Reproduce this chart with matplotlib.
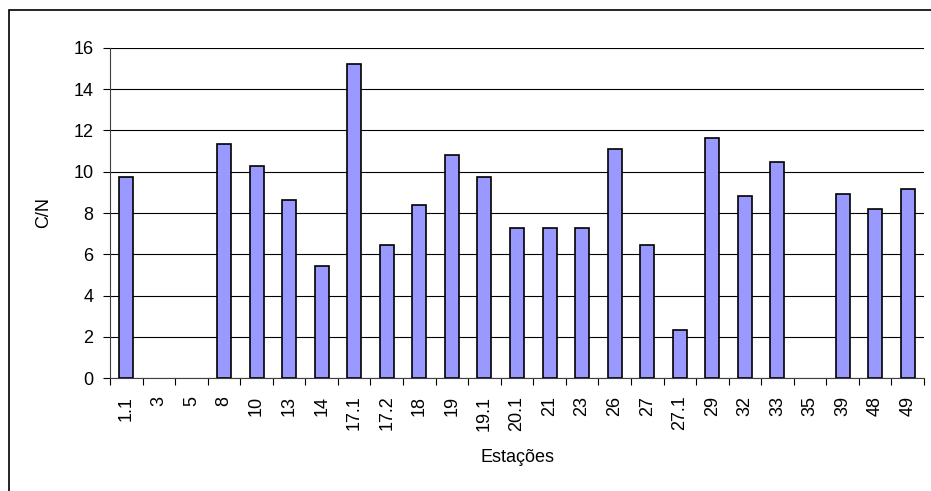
import matplotlib
matplotlib.use("Agg")
import matplotlib.pyplot as plt
from matplotlib.patches import Rectangle

plt.rcParams["font.family"] = ["Liberation Sans", "DejaVu Sans"]

NAN = float("nan")

# C/N por estação (nan = sem barra)
stations = ["1.1", "3", "5", "8", "10", "13", "14", "17.1", "17.2", "18", "19",
            "19.1", "20.1", "21", "23", "26", "27", "27.1", "29", "32", "33",
            "35", "39", "48", "49"]
cn_ratio = [9.73, NAN, NAN, 11.35, 10.27, 8.63, 5.45, 15.19, 6.44, 8.37, 10.81,
            9.73, 7.27, 7.27, 7.27, 11.11, 6.45, 2.35, 11.65, 8.82, 10.47,
            NAN, 8.92, 8.18, 9.18]
y_ticks = [0, 2, 4, 6, 8, 10, 12, 14, 16]

fig = plt.figure(figsize=(9.31, 4.91), dpi=100)
ax = fig.add_axes([110 / 931, 1 - 378.3 / 491, 814 / 931, 330.6 / 491])

pos = list(range(len(stations)))
ax.bar(pos, cn_ratio, width=0.43, color="#9999ff", edgecolor="black",
       linewidth=1.2, zorder=3)

ax.set_xlim(-0.5, len(stations) - 0.5)
ax.set_ylim(0, 16)
ax.set_yticks(y_ticks)
ax.yaxis.grid(True, color="black", linewidth=0.8, zorder=0)

# rótulos nas categorias, marcas entre elas
ax.set_xticks(pos)
ax.set_xticklabels(stations, rotation=90, fontsize=13)
ax.set_xticks([p - 0.5 for p in pos] + [len(stations) - 0.5], minor=True)
ax.tick_params(axis="x", which="major", length=0, pad=12.5)
ax.tick_params(axis="x", which="minor", length=5, direction="out", width=0.8)
ax.tick_params(axis="y", length=5, direction="out", width=0.8, labelsize=13, pad=7)

for side in ("top", "right"):
    ax.spines[side].set_visible(False)
ax.spines["left"].set_color("#404040")
ax.spines["bottom"].set_color("#404040")

ax.set_ylabel("C/N", fontsize=13, labelpad=15)
ax.set_xlabel("Estações", fontsize=13, labelpad=13)

# moldura da área do gráfico (cortada à direita e embaixo)
fig.patches.append(Rectangle((8.5 / 931, -0.1), 1.2, 1 - 10 / 491 + 0.1,
                             transform=fig.transFigure, fill=False,
                             edgecolor="black", linewidth=1.2))

fig.savefig("out.png", dpi=100)
